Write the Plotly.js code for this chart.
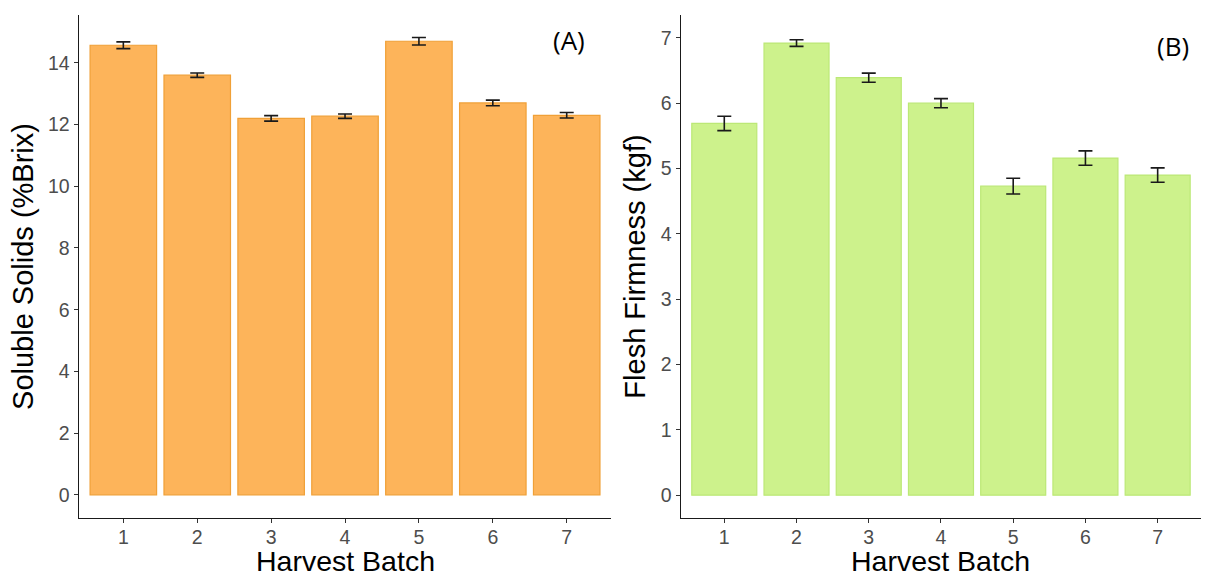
<!DOCTYPE html>
<html>
<head>
<meta charset="utf-8">
<script src="https://cdn.plot.ly/plotly-3.0.1.min.js"></script>
<style>
  html, body { margin: 0; padding: 0; background: #ffffff; }
  #chart { width: 1213px; height: 574px; }
</style>
</head>
<body>
<div id="chart"></div>
<script>
// Harvest batches shared by both panels
const batches = [1, 2, 3, 4, 5, 6, 7];

// (A) soluble solids, mean and standard error
const solubleSolids = [14.57, 13.60, 12.20, 12.27, 14.70, 12.70, 12.30];
const solubleSolidsErr = [0.11, 0.07, 0.09, 0.07, 0.12, 0.09, 0.09];

// (B) flesh firmness, mean and standard error
const firmness = [5.69, 6.92, 6.39, 6.00, 4.73, 5.16, 4.90];
const firmnessErr = [0.11, 0.05, 0.07, 0.07, 0.12, 0.11, 0.11];

const panelLabels = ['(A)', '(B)'];
const xTitle = 'Harvest Batch';

const tickFont = { family: 'Liberation Sans, Arial, sans-serif', size: 19.5, color: '#4d4d4d' };
const titleFont = { family: 'Liberation Sans, Arial, sans-serif', size: 29, color: '#000000' };
const xTitleFont = { family: 'Liberation Sans, Arial, sans-serif', size: 28.5, color: '#000000' };
const panelFont = { family: 'Open Sans, sans-serif', size: 26, color: '#000000' };

function barTrace(y, err, fill, edge, xa, ya) {
  return {
    type: 'bar',
    x: batches,
    y: y,
    width: 0.9,
    xaxis: xa,
    yaxis: ya,
    marker: { color: fill, line: { color: edge, width: 1.2 } },
    error_y: { type: 'data', array: err, visible: true, color: '#1a1a1a', thickness: 1.6, width: 7 },
    hoverinfo: 'x+y',
    showlegend: false
  };
}

const data = [
  barTrace(solubleSolids, solubleSolidsErr, 'rgb(253,180,90)', 'rgb(240,160,55)', 'x', 'y'),
  barTrace(firmness, firmnessErr, 'rgb(205,242,140)', 'rgb(188,232,118)', 'x2', 'y2')
];

function xAxis(domain, anchor) {
  return {
    domain: domain,
    anchor: anchor,
    range: [0.4, 7.6],
    tickmode: 'array',
    tickvals: batches,
    ticktext: batches.map(String),
    showgrid: false,
    zeroline: false,
    showline: true,
    linecolor: '#1a1a1a',
    linewidth: 1.4,
    ticks: 'outside',
    ticklen: 4,
    tickwidth: 1,
    tickcolor: '#333333',
    tickfont: tickFont,
    ticklabelstandoff: -3,
    fixedrange: true
  };
}

function yAxis(range, dtick, anchor, title) {
  return {
    domain: [0, 1],
    anchor: anchor,
    range: range,
    tick0: 0,
    dtick: dtick,
    showgrid: false,
    zeroline: false,
    showline: true,
    linecolor: '#1a1a1a',
    linewidth: 1.4,
    ticks: 'outside',
    ticklen: 4,
    tickwidth: 1,
    tickcolor: '#333333',
    tickfont: tickFont,
    title: { text: title, font: titleFont, standoff: 6 },
    fixedrange: true
  };
}

// x-axis titles sit just under the tick labels, centred on each panel
function xTitleNote(xref) {
  return { text: xTitle, xref: xref, yref: 'paper', x: 4, y: -0.086,
           xanchor: 'center', yanchor: 'middle', showarrow: false, font: xTitleFont };
}

const layout = {
  width: 1213,
  height: 574,
  margin: { l: 79, r: 12, t: 15, b: 56 },
  paper_bgcolor: '#ffffff',
  plot_bgcolor: '#ffffff',
  bargap: 0.1,
  xaxis: xAxis([0, 0.4742], 'y'),
  yaxis: yAxis([-0.75, 15.55], 2, 'x', 'Soluble Solids (%Brix)'),
  xaxis2: xAxis([0.5365, 1], 'y2'),
  yaxis2: yAxis([-0.35, 7.35], 1, 'x2', 'Flesh Firmness (kgf)'),
  annotations: [
    xTitleNote('x'),
    xTitleNote('x2'),
    { text: panelLabels[0], xref: 'x', yref: 'paper', x: 7.03, y: 0.951,
      xanchor: 'center', yanchor: 'middle', showarrow: false, font: panelFont },
    { text: panelLabels[1], xref: 'x2', yref: 'paper', x: 7.21, y: 0.938,
      xanchor: 'center', yanchor: 'middle', showarrow: false, font: panelFont }
  ]
};

Plotly.newPlot('chart', data, layout, { displayModeBar: false, staticPlot: true });
</script>
</body>
</html>
